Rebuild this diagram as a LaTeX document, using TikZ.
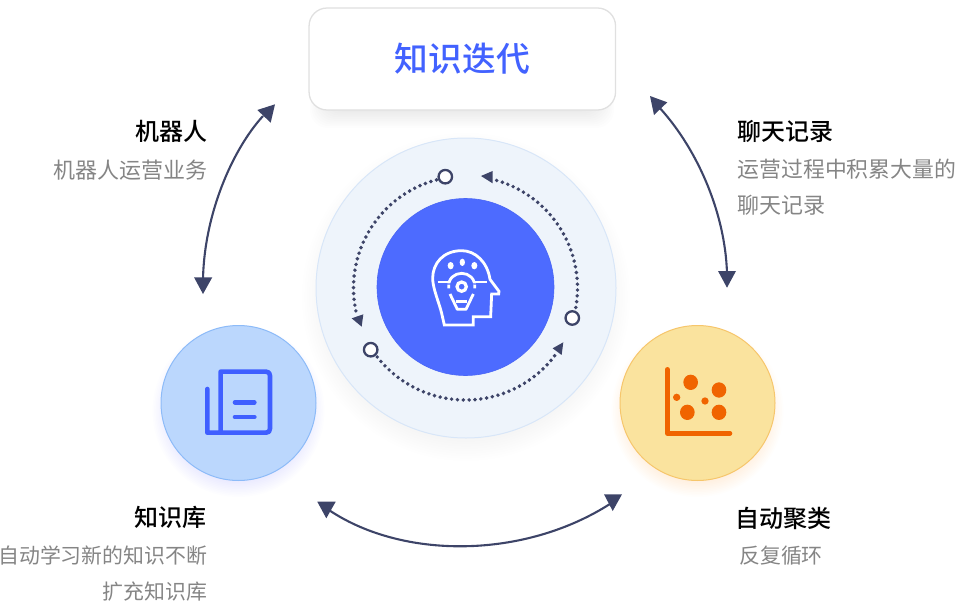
\documentclass[tikz,border=0pt]{standalone}
\usepackage{fontspec}
\setmainfont{Noto Sans CJK SC}
\newfontfamily\medfont{Noto Sans CJK SC Medium}
\usetikzlibrary{arrows.meta}
\definecolor{ink}{HTML}{3D4468}
\definecolor{blueT}{HTML}{4262FF}
\definecolor{coreC}{HTML}{4D6BFF}
\definecolor{coreE}{HTML}{4A66F5}
\definecolor{outerC}{HTML}{EEF4FB}
\definecolor{outerE}{HTML}{D8E6F8}
\definecolor{leftC}{HTML}{BBD7FD}
\definecolor{leftE}{HTML}{8DBBF8}
\definecolor{rightC}{HTML}{FAE39E}
\definecolor{rightE}{HTML}{F6C66C}
\definecolor{iconB}{HTML}{3F5FFF}
\definecolor{iconO}{HTML}{F06400}
\definecolor{greyT}{HTML}{858585}
\tikzset{
  x=1pt,y=-1pt,
  flow/.style={draw=ink,line width=2.1pt},
  tipshape/.style={fill=ink},
  dots/.style={draw=ink,line width=3.9pt,line cap=round,dash pattern=on 0pt off 5.85pt},
  ring/.style={circle,draw=ink,line width=2.3pt,fill=white,minimum size=13.5pt,inner sep=0pt},
  hd/.style={font=\fontsize{24}{26}\selectfont\medfont,text=black,inner sep=0pt},
  bd/.style={font=\fontsize{22}{26}\selectfont,text=greyT,inner sep=0pt},
  bdr/.style={font=\fontsize{21.85}{26}\selectfont,text=greyT,inner sep=0pt},
  bds/.style={font=\fontsize{20.9}{26}\selectfont,text=greyT,inner sep=0pt},
  bico/.style={draw=iconB,line width=4.6pt,line cap=round,line join=round},
}
\begin{document}
\begin{tikzpicture}
\useasboundingbox (0,0) rectangle (956,602);
% soft shadows
\foreach \k in {1,...,10}{
  \fill[black,opacity=0.004] (466,297) circle ({140+\k*2.4});
  \fill[blue,opacity=0.006] (238.5,411) circle ({70+\k*1.6});
  \fill[orange,opacity=0.012] (697.5,411) circle ({70+\k*1.6});
  \fill[black,opacity=0.006,rounded corners=18pt] ({326-\k*1.6},{24-\k*1.2}) rectangle ({598+\k*1.6},{110+\k*1.8});
}
% top box
\node[draw=black!12,line width=1.3pt,fill=white,rounded corners=18pt,minimum width=306.5pt,minimum height=102pt,inner sep=0pt,
  font=\fontsize{33.7}{36}\selectfont\medfont,text=blueT] (top) at (462.3,59) {知识迭代};
% centre
\node[circle,draw=outerE,line width=1pt,fill=outerC,minimum size=300pt,inner sep=0pt] (outer) at (466,288) {};
\node[circle,draw=coreE,line width=0.6pt,fill=coreC,minimum size=177pt,inner sep=0pt] (core) at (465.5,287) {};
% dotted arcs
\draw[dots] plot[smooth,samples=40,domain=255:168] ({465.5+112*cos(\x)},{288+112*sin(\x)});
\draw[dots] plot[smooth,samples=40,domain=10:-76] ({465.5+112*cos(\x)},{288+112*sin(\x)});
\draw[dots] plot[smooth,samples=40,domain=142:36] ({465.5+112*cos(\x)},{288+112*sin(\x)});
\node[ring] (r1) at (445.3,176.7) {};
\node[ring] (r2) at (572.3,318) {};
\node[ring] (r3) at (370.7,349.7) {};
\begin{scope}[shift={(340,160)},x=0.3333pt,y=-0.3333pt]
  \fill[tipshape] (423,48) -- (458,33) -- (458,70) -- cycle;
  \fill[tipshape] (35,475) -- (70,463) -- (65,500) -- cycle;
  \fill[tipshape] (670,547) -- (638,565) -- (665,585) -- cycle;
\end{scope}
% head icon
\begin{scope}[shift={(400,220)},x=0.3333pt,y=-0.3333pt,line width=2.8pt]
  \draw[draw=white,line join=miter] (133,315) -- (220,315) -- (220,290) -- (272,290) -- (275,222) -- (296,222)
     -- (297,214) -- (270,178) .. controls (262,125) and (225,92) .. (185,92)
     .. controls (130,92) and (98,130) .. (98,175) .. controls (98,205) and (118,250) .. (125,280) -- cycle;
  \draw[white,line width=2.2pt] (113,185) -- (150,185) (222,185) -- (260,185);
  \draw[white,line width=3.2pt] (185,200) circle (14);
  \draw[white] (146,205) .. controls (140,145) and (230,145) .. (224,205);
  \draw[white,line join=round] (150,222) -- (172,268) -- (198,268) -- (220,222);
  \draw[white,line width=3pt] (168,245) -- (202,245);
  \draw[coreC,line width=1.4pt] (140,192) -- (156,192) (214,192) -- (230,192) (140,212) -- (156,214) (214,214) -- (230,212);
  \fill[white] (152,137) ellipse (9 and 11);
  \fill[white] (187,127) ellipse (8 and 11);
  \fill[white] (223,137) ellipse (9 and 11);
\end{scope}
% side circles
\node[circle,draw=leftE,line width=1pt,fill=leftC,minimum size=155pt,inner sep=0pt] (kb) at (238.5,403) {};
\node[circle,draw=rightE,line width=1pt,fill=rightC,minimum size=155pt,inner sep=0pt] (cl) at (697.5,403) {};
% document icon
\begin{scope}[shift={(190,355)},x=0.3333pt,y=-0.3333pt]
  \draw[bico] (52,102) -- (52,233) -- (228,233) .. controls (236,233) and (240,229) .. (240,221) -- (240,62)
     .. controls (240,54) and (236,50) .. (228,50) -- (92,50) -- (92,233);
  \draw[bico] (135,142) -- (193,142) (135,186) -- (193,186);
\end{scope}
% chart icon
\begin{scope}[shift={(650,355)},x=0.3333pt,y=-0.3333pt]
  \draw[iconO,line width=4.6pt,line cap=round,line join=round] (52,43) -- (52,235) -- (240,235);
  \fill[iconO] (122,82) ellipse (22 and 23) (207,105) ellipse (22 and 23) (112,172) ellipse (22 and 23) (207,172) ellipse (22 and 23) (80,127) circle (11) (165,138) circle (11);
\end{scope}
% flows
\coordinate (a1) at (263,116);
\coordinate (a2) at (203,280);
\coordinate (b1) at (657,105);
\coordinate (b2) at (727,273);
\coordinate (c1) at (326,508);
\coordinate (c2) at (613,502);
\draw[flow] (a1) .. controls (232,150) and (204,215) .. (a2);
\draw[flow] (b1) .. controls (695,145) and (725,210) .. (b2);
\draw[flow] (c1) .. controls (400,560) and (525,560) .. (c2);
\fill[tipshape] (257.3,110) -- (275,104.3) -- (270.7,122.7) -- cycle;
\fill[tipshape] (194,277.3) -- (212.3,277.3) -- (203,294) -- cycle;
\fill[tipshape] (650,96) -- (667.3,102.3) -- (654,115) -- cycle;
\fill[tipshape] (718,271) -- (736,271) -- (727,287.7) -- cycle;
\fill[tipshape] (317.3,501.7) -- (335.7,501.7) -- (326.3,518.3) -- cycle;
\fill[tipshape] (604,494.3) -- (622,494.3) -- (612.7,511) -- cycle;
% labels
\node[hd,anchor=east] (t1) at (208,131) {机器人};
\node[bd,anchor=east] (t2) at (207.5,170) {机器人运营业务};
\node[hd,anchor=west] (t3) at (737.5,131) {聊天记录};
\node[bdr,anchor=west] (t4) at (737.5,169) {运营过程中积累大量的};
\node[bd,anchor=west] (t5) at (737.5,205) {聊天记录};
\node[hd,anchor=east] (t6) at (207,517) {知识库};
\node[bds,anchor=east] (t7) at (207.5,556) {自动学习新的知识不断};
\node[bds,anchor=east] (t8) at (207.5,592) {扩充知识库};
\node[hd,anchor=west] (t9) at (735.5,518) {自动聚类};
\node[bds,anchor=west] (t10) at (739,556) {反复循环};
\end{tikzpicture}
\end{document}
